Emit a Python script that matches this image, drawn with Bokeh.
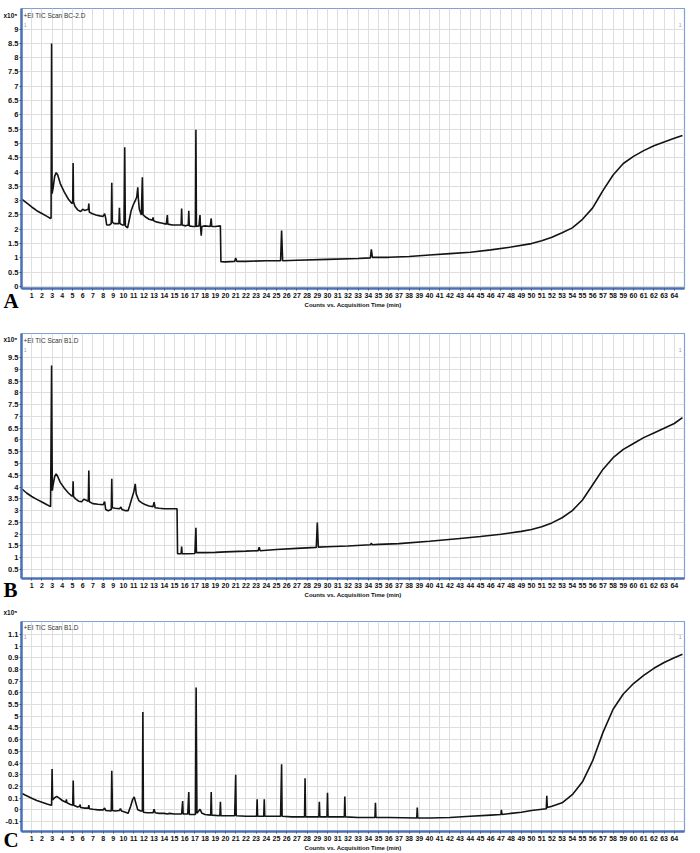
from bokeh.plotting import figure
from bokeh.models import FixedTicker, Range1d, Label
from bokeh.layouts import column
from bokeh.embed import file_html
from bokeh.resources import INLINE

# ---------------- data ----------------
x_ticks = list(range(1, 65))

# Panel A (x10^5 counts)
a_title = "+EI TIC Scan BC-2.D"
a_t = [0.05, 0.5, 1.0, 1.5, 2.0, 2.5, 2.85, 2.9, 2.95, 3.0, 3.1, 3.25, 3.4, 3.55, 3.8, 4.2, 4.6, 4.95,
       5.02, 5.06, 5.1, 5.25, 5.5, 5.8, 6.0, 6.2, 6.4, 6.55, 6.6, 6.65, 6.9, 7.3, 7.7, 8.0, 8.15, 8.25,
       8.35, 8.6, 8.8, 8.85, 8.9, 9.1, 9.4, 9.55, 9.6, 9.65, 9.9, 10.05, 10.12, 10.18, 10.4, 10.55,
       10.75, 10.95, 11.15, 11.3, 11.4, 11.45, 11.55, 11.75, 11.85, 11.92, 12.2, 12.5, 12.85, 12.9,
       12.95, 13.3, 13.7, 14.2, 14.3, 14.35, 14.8, 15.3, 15.65, 15.7, 15.75, 16.1, 16.35, 16.4, 16.45,
       16.8, 17.05, 17.1, 17.15, 17.4, 17.5, 17.55, 17.62, 17.68, 18.0, 18.5, 18.6, 18.65, 19.0, 19.5,
       19.55, 20.0, 20.9, 21.0, 21.1, 22.0, 24.0, 25.4, 25.5, 25.6, 27.0, 30.0, 33.0, 34.2, 34.3, 34.4,
       36.0, 38.0, 40.0, 42.0, 44.0, 46.0, 48.0, 50.0, 51.0, 52.0, 53.0, 54.0, 55.0, 56.0, 56.5, 57.0,
       58.0, 59.0, 60.0, 61.0, 62.0, 63.0, 64.0, 64.8]
a_v = [3.05, 2.92, 2.78, 2.65, 2.55, 2.45, 2.38, 2.4, 8.5, 3.25, 3.45, 3.85, 3.98, 3.9, 3.6, 3.3, 3.05, 2.9,
       2.95, 4.32, 2.95, 2.8, 2.68, 2.62, 2.7, 2.66, 2.68, 2.7, 2.9, 2.6, 2.55, 2.5, 2.47, 2.45, 2.55, 2.4,
       2.15, 2.15, 2.2, 3.63, 2.25, 2.2, 2.2, 2.2, 2.75, 2.2, 2.15, 2.15, 4.87, 2.12, 2.05, 2.3,
       2.65, 2.85, 3.0, 3.13, 3.47, 3.1, 2.7, 2.5, 3.82, 2.5, 2.42, 2.35, 2.32, 2.42,
       2.3, 2.25, 2.22, 2.18, 2.5, 2.18, 2.15, 2.15, 2.15, 2.73, 2.15, 2.12, 2.15, 2.65, 2.12,
       2.1, 2.1, 5.48, 2.1, 2.12, 2.5, 2.1, 1.78, 2.1, 2.12, 2.1, 2.38, 2.1, 2.1, 2.12,
       0.87, 0.86, 0.88, 1.0, 0.88, 0.88, 0.9, 0.9, 1.96, 0.9, 0.92, 0.95, 0.98, 1.0, 1.3, 1.02,
       1.02, 1.05, 1.1, 1.15, 1.2, 1.28, 1.38, 1.5, 1.6, 1.72, 1.88, 2.05, 2.35, 2.75, 3.05, 3.35,
       3.9, 4.3, 4.55, 4.75, 4.92, 5.05, 5.18, 5.28]
a_yticks = [0, 0.5, 1, 1.5, 2, 2.5, 3, 3.5, 4, 4.5, 5, 5.5, 6, 6.5, 7, 7.5, 8, 8.5, 9]
a_ylabels = ["0", "0.5", "1", "1.5", "2", "2.5", "3", "3.5", "4", "4.5", "5", "5.5", "6", "6.5",
             "7", "7.5", "8", "8.5", "9"]

# Panel B (x10^5 counts)
b_title = "+EI TIC Scan B1.D"
b_t = [0.05, 0.5, 1.0, 1.5, 2.0, 2.5, 2.85, 2.95, 3.02, 3.1, 3.25, 3.4, 3.55, 3.8, 4.2, 4.6, 4.95, 5.02,
       5.06, 5.1, 5.3, 5.6, 5.9, 6.1, 6.3, 6.55, 6.6, 6.65, 7.0, 7.5, 8.0, 8.15, 8.25, 8.5, 8.8, 8.85,
       8.9, 9.2, 9.6, 9.75, 9.85, 10.2, 10.45, 10.6, 10.8, 11.0, 11.15, 11.25, 11.5, 11.8, 12.1, 12.5,
       12.9, 13.0, 13.1, 13.5, 14.0, 14.5, 15.0, 15.25, 15.3, 15.65, 15.7, 15.75, 16.3, 17.0, 17.1,
       17.15, 18.0, 19.0, 20.0, 22.0, 23.2, 23.3, 23.4, 25.0, 27.0, 28.9, 29.0, 29.1, 30.0, 32.0,
       34.2, 34.3, 34.4, 35.0, 37.0, 40.0, 43.0, 45.0, 47.0, 49.0, 50.0, 51.0, 52.0, 53.0, 54.0, 55.0,
       56.0, 57.0, 58.0, 59.0, 60.0, 61.0, 62.0, 63.0, 64.0, 64.8]
b_v = [3.92, 3.75, 3.6, 3.48, 3.37, 3.25, 3.17, 9.16, 3.85, 4.1, 4.45, 4.56, 4.45, 4.2, 3.95, 3.75, 3.62, 3.62,
       4.25, 3.6, 3.5, 3.4, 3.38, 3.48, 3.45, 3.4, 4.7, 3.38, 3.3, 3.27, 3.25, 3.38, 3.05, 3.0, 3.05, 4.35,
       3.12, 3.1, 3.08, 3.15, 3.05, 3.0, 3.0, 3.2, 3.5, 3.78, 4.14, 3.7, 3.43, 3.33, 3.26, 3.2,
       3.17, 3.36, 3.12, 3.1, 3.08, 3.08, 3.08, 3.08, 1.17, 1.17, 1.48, 1.17, 1.17, 1.18, 2.27,
       1.22, 1.22, 1.23, 1.25, 1.28, 1.3, 1.45, 1.3, 1.35, 1.4, 1.44, 2.5, 1.45, 1.47, 1.5,
       1.55, 1.62, 1.55, 1.57, 1.6, 1.7, 1.82, 1.9, 2.0, 2.12, 2.2, 2.32, 2.48, 2.7, 3.0, 3.45,
       4.1, 4.75, 5.25, 5.6, 5.85, 6.1, 6.3, 6.5, 6.7, 6.95]
b_yticks = [0.5, 1, 1.5, 2, 2.5, 3, 3.5, 4, 4.5, 5, 5.5, 6, 6.5, 7, 7.5, 8, 8.5, 9, 9.5]
b_ylabels = ["0.5", "1", "1.5", "2", "2.5", "3", "3.5", "4", "4.5", "5", "5.5", "6", "6.5", "7",
             "7.5", "8", "8.5", "9", "9.5"]

# Panel C (values in tick-position units; axis labels as printed)
c_title = "+EI TIC Scan B1.D"
c_t = [0.05, 0.5, 1.0, 1.5, 2.0, 2.5, 2.9, 2.95, 3.0, 3.05, 3.2, 3.45, 3.7, 4.0, 4.35, 4.4, 4.45, 4.8,
       5.02, 5.07, 5.12, 5.5, 5.7, 5.75, 5.8, 6.2, 6.55, 6.6, 6.65, 7.0, 7.5, 8.0, 8.15, 8.25, 8.8,
       8.85, 8.92, 9.2, 9.6, 9.7, 9.8, 10.2, 10.45, 10.7, 10.9, 11.05, 11.2, 11.4, 11.7, 11.85, 11.9,
       11.95, 12.3, 12.9, 13.0, 13.1, 13.5, 14.0, 14.3, 14.5, 15.0, 15.7, 15.8, 15.85, 16.3, 16.4,
       16.45, 17.05, 17.12, 17.2, 17.5, 17.7, 18.0, 18.55, 18.6, 18.65, 19.45, 19.5, 19.55, 20.0,
       20.9, 21.0, 21.05, 22.0, 23.05, 23.1, 23.15, 23.75, 23.8, 23.85, 25.4, 25.5, 25.55, 26.5,
       27.75, 27.8, 27.85, 29.15, 29.2, 29.25, 29.95, 30.0, 30.05, 31.65, 31.7, 31.75, 33.0, 34.65,
       34.7, 34.75, 36.0, 38.75, 38.8, 38.85, 40.0, 42.0, 44.0, 46.0, 47.0, 47.05, 47.1, 48.0, 49.0,
       50.0, 51.45, 51.5, 51.55, 52.0, 53.0, 54.0, 55.0, 56.0, 57.0, 58.0, 59.0, 60.0, 61.0, 62.0,
       63.0, 64.0, 64.8]
c_v = [0.14, 0.12, 0.1, 0.08, 0.065, 0.05, 0.04, 0.04, 0.35, 0.085, 0.1, 0.115, 0.1, 0.08, 0.065, 0.09, 0.06, 0.045,
       0.04, 0.25, 0.04, 0.025, 0.03, 0.045, 0.02, 0.015, 0.015, 0.04, 0.01, 0.005, 0.0, 0.0, 0.015, -0.005, -0.01,
       0.334, -0.005, -0.01, -0.005, 0.01, -0.01, -0.02, -0.03, 0.03, 0.09, 0.11, 0.06, 0.0, -0.01, -0.01, 0.836,
       -0.02, -0.025, -0.025, 0.005, -0.025, -0.03, -0.03, -0.035, -0.03, -0.035, -0.035, 0.076, -0.035, -0.035, 0.153,
       -0.04, -0.04, 1.046, -0.03, 0.005, -0.03, -0.04, -0.045, 0.153, -0.045, -0.05, 0.068, -0.05, -0.05,
       -0.05, 0.3, -0.05, -0.055, -0.055, 0.09, -0.055, -0.055, 0.09, -0.055, -0.055, 0.39, -0.055, -0.06,
       -0.06, 0.27, -0.06, -0.06, 0.07, -0.06, -0.06, 0.147, -0.06, -0.06, 0.113, -0.06, -0.065, -0.065,
       0.06, -0.065, -0.065, -0.07, 0.02, -0.07, -0.07, -0.065, -0.055, -0.045, -0.04, 0.0, -0.04, -0.03, -0.02,
       -0.005, 0.01, 0.12, 0.02, 0.03, 0.06, 0.13, 0.24, 0.42, 0.66, 0.86, 0.99, 1.08, 1.15, 1.21,
       1.26, 1.3, 1.33]
c_yticks = [-0.1, 0.0, 0.1, 0.2, 0.3, 0.4, 0.5, 0.6, 0.7, 0.8, 0.9, 1.0, 1.1, 1.2, 1.3, 1.4, 1.5]
c_ylabels = ["-0.1", "0", "0.1", "0.2", "0.3", "0.4", "0.5", "0.6", "4.5", "5", "5.5", "0.6",
             "0.7", "0.8", "0.9", "1", "1.1"]

x_title = "Counts vs. Acquisition Time (min)"
scale_text = "x10\u2075"

TICK_FONT = "Liberation Sans"
AXIS_BLUE = "#4a72b8"
FRAME_BLUE = "#7f9fd8"
W = 700
LEFT, RIGHT = 21, 16


def panel(t, v, title, letter, yticks, ylabels, yr, height, top, bottom, scale_y, letter_y):
    fw = W - LEFT - RIGHT
    fh = height - top - bottom
    p = figure(width=W, height=height, output_backend="svg", toolbar_location=None,
               x_range=Range1d(0, 65), y_range=Range1d(*yr),
               min_border_left=LEFT, min_border_right=RIGHT,
               min_border_top=top, min_border_bottom=bottom,
               background_fill_color="white", border_fill_color="white")
    p.outline_line_color = FRAME_BLUE
    p.outline_line_width = 1.2

    p.xaxis.ticker = FixedTicker(ticks=x_ticks)
    p.yaxis.ticker = FixedTicker(ticks=yticks)
    p.yaxis.major_label_overrides = {k: s for k, s in zip(yticks, ylabels)}
    for ax in (p.xaxis, p.yaxis):
        ax.axis_line_color = AXIS_BLUE
        ax.axis_line_width = 2.5
        ax.major_tick_in = 0
        ax.major_tick_out = 2
        ax.major_tick_line_color = "#555555"
        ax.minor_tick_line_color = None
        ax.major_label_text_font = TICK_FONT
        ax.major_label_text_font_size = "7px"
        ax.major_label_text_font_style = "bold"
        ax.major_label_text_color = "#111111"
        ax.major_label_standoff = 2
    p.yaxis.major_label_text_font_size = "7.5px"
    p.yaxis.major_label_standoff = 1
    p.xaxis.axis_label = x_title
    p.xaxis.axis_label_standoff = 1
    p.xaxis.axis_label_text_font = TICK_FONT
    p.xaxis.axis_label_text_font_size = "6px"
    p.xaxis.axis_label_text_font_style = "bold"
    p.xaxis.axis_label_text_color = "#111111"

    p.xgrid.ticker = FixedTicker(ticks=x_ticks)
    p.ygrid.ticker = FixedTicker(ticks=yticks)
    p.grid.grid_line_color = "#dedede"
    p.grid.grid_line_width = 1

    p.line(t, v, line_color="#141414", line_width=1.6)

    # texts inside the frame
    p.add_layout(Label(x=2, y=fh - 7, x_units="screen", y_units="screen", text=title,
                       text_font=TICK_FONT, text_font_size="6.5px", text_color="#333333",
                       text_baseline="middle", text_align="left"))
    p.add_layout(Label(x=2, y=fh - 16, x_units="screen", y_units="screen", text="1",
                       text_font=TICK_FONT, text_font_size="6px", text_color="#aaaaaa",
                       text_baseline="middle", text_align="left"))
    p.add_layout(Label(x=fw - 6, y=fh - 16, x_units="screen", y_units="screen", text="1",
                       text_font=TICK_FONT, text_font_size="6px", text_color="#aaaaaa",
                       text_baseline="middle", text_align="left"))

    # scale factor: side panel above the frame (its bottom edge is the frame top)
    p.add_layout(Label(x=-18, y=scale_y, x_units="screen", y_units="screen", text=scale_text,
                       text_font=TICK_FONT, text_font_size="6.5px", text_font_style="bold",
                       text_color="#111111", text_baseline="middle", text_align="left"), "above")
    # panel letter: side panel right of the frame, drawn at the lower-left corner
    p.add_layout(Label(x=-(fw + 18), y=-letter_y, x_units="screen", y_units="screen", text=letter,
                       text_font="Liberation Serif", text_font_size="21px", text_font_style="bold",
                       text_color="#000000", text_baseline="middle", text_align="left"), "right")
    return p


pA = panel(a_t, a_v, a_title, "A", a_yticks, a_ylabels, (-0.07, 9.72), 313, 8, 25, -7, 12)
pB = panel(b_t, b_v, b_title, "B", b_yticks, b_ylabels, (0.12, 10.52), 291, 20, 26, -6, 11)
pC = panel(c_t, c_v, c_title, "C", c_yticks, c_ylabels, (-0.185, 1.61), 249, 17, 21, 9, 8)

layout = column(pA, pB, pC, spacing=0)
open("out.html", "w").write(file_html(layout, INLINE))
